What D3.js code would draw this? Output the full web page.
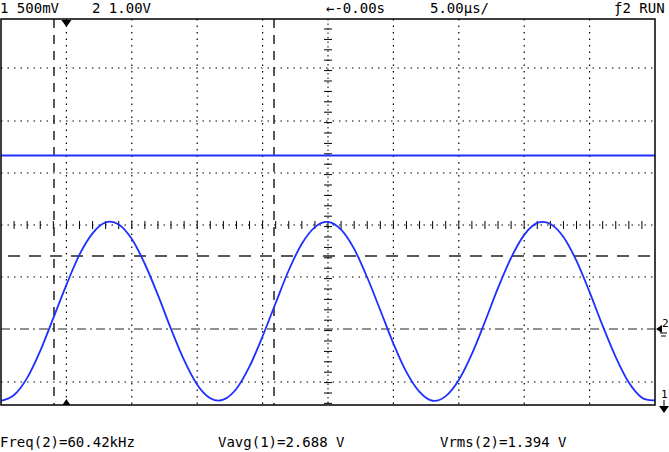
<!DOCTYPE html><html><head><meta charset="utf-8"><script src="https://cdn.jsdelivr.net/npm/d3@7"></script>
<style>body{margin:0;background:#fff}text{font-family:"DejaVu Sans Mono",monospace;font-size:14px;fill:#000}</style></head><body>
<script>
const timeUs=d3.range(0,51);
const ch2Volts=[-1.38,-1.27,-0.94,-0.42,0.21,0.85,1.43,1.84,2.05,2.01,1.73,1.25,0.65,0.00,-0.60,-1.07,-1.33,-1.36,-1.15,-0.72,-0.14,0.50,1.13,1.64,1.96,2.06,1.91,1.54,0.99,0.36,-0.28,-0.83,-1.21,-1.38,-1.29,-0.98,-0.48,0.14,0.79,1.37,1.81,2.04,2.02,1.77,1.31,0.71,0.06,-0.54,-1.03,-1.32,-1.37];
const ch1Time=[0,50];
const ch1Volts=[2.40,2.40];
const topLabels=[["1 500mV",0],["2 1.00V",92],["\u2190-0.00s",326],["5.00\u00b5s/",430],["\u01922 RUN",614]];
const bottomLabels=[["Freq(2)=60.42kHz",0],["Vavg(1)=2.688 V",218],["Vrms(2)=1.394 V",440]];

const W=669,H=452,L=1,R=655,T=19,B=405;
const svg=d3.select("body").append("svg").attr("width",W).attr("height",H);
const x=d3.scaleLinear().domain([0,50]).range([L,R]);
const y2=d3.scaleLinear().domain([0,1]).range([329,277]);
const y1=d3.scaleLinear().domain([0,0.5]).range([405,353]);
const g=svg.append("g");
const vx=d3.range(1,10).map(i=>x(i*5));
const hy=[68,121,173,277,382];
g.selectAll(".v").data(vx.filter((d,i)=>i!==4)).join("line").attr("x1",d=>d).attr("x2",d=>d).attr("y1",T).attr("y2",B).attr("stroke","#000").attr("stroke-dasharray","1.5,5").attr("stroke-width",1.2);
g.selectAll(".h").data(hy).join("line").attr("x1",L).attr("x2",R).attr("y1",d=>d).attr("y2",d=>d).attr("stroke","#000").attr("stroke-dasharray","1.5,5").attr("stroke-width",1.2);
const cx=x(25),cy=225;
g.append("line").attr("x1",cx).attr("x2",cx).attr("y1",T).attr("y2",B).attr("stroke","#000").attr("stroke-dasharray","1.5,3");
g.append("line").attr("x1",L).attr("x2",R).attr("y1",cy).attr("y2",cy).attr("stroke","#000").attr("stroke-dasharray","1.5,5");
g.selectAll(".tx").data(d3.range(1,50)).join("line").attr("x1",d=>x(d)).attr("x2",d=>x(d)).attr("y1",cy-4).attr("y2",cy+4).attr("stroke","#000");
g.selectAll(".ty").data(d3.range(T+10,B,10.4)).join("line").attr("x1",cx-4).attr("x2",cx+4).attr("y1",d=>d).attr("y2",d=>d).attr("stroke","#000");
[54,274].forEach(px=>g.append("line").attr("x1",px).attr("x2",px).attr("y1",T).attr("y2",B).attr("stroke","#222").attr("stroke-width",1.5).attr("stroke-dasharray","9,7"));
g.append("line").attr("x1",8).attr("x2",R).attr("y1",256).attr("y2",256).attr("stroke","#222").attr("stroke-width",1.5).attr("stroke-dasharray","12,9");
g.append("line").attr("x1",L).attr("x2",R).attr("y1",y2(0)).attr("y2",y2(0)).attr("stroke","#222").attr("stroke-width",1.2).attr("stroke-dasharray","9,4,2,4");
const line1=d3.line().x((d,i)=>x(ch1Time[i])).y(d=>y1(d));
svg.append("path").attr("d",line1(ch1Volts)).attr("stroke","#1f2fff").attr("stroke-width",2).attr("fill","none");
const line2=d3.line().x((d,i)=>x(timeUs[i])).y(d=>y2(d)).curve(d3.curveCardinal);
svg.append("path").attr("d",line2(ch2Volts)).attr("stroke","#1f2fff").attr("stroke-width",1.8).attr("fill","none");
svg.append("rect").attr("x",L).attr("y",T).attr("width",R-L).attr("height",B-T).attr("fill","none").attr("stroke","#000").attr("stroke-width",1.5);
svg.append("path").attr("d",`M${x(5)-5},${T+1}L${x(5)+5},${T+1}L${x(5)},${T+8}Z`);
svg.append("path").attr("d",`M${x(5)-4},${B}L${x(5)+4},${B}L${x(5)},${B-6}Z`);
svg.append("path").attr("d",`M656,329L662,325L662,333Z`);
svg.append("text").attr("x",662).attr("y",327).text("2").style("font-size","11px");
svg.append("line").attr("x1",660).attr("x2",667).attr("y1",333).attr("y2",333).attr("stroke","#000");
svg.append("line").attr("x1",661).attr("x2",666).attr("y1",336).attr("y2",336).attr("stroke","#000");
svg.append("text").attr("x",661).attr("y",398).text("1").style("font-size","11px");
svg.append("line").attr("x1",664).attr("x2",664).attr("y1",400).attr("y2",410).attr("stroke","#000");
svg.append("path").attr("d",`M659,406L669,406L664,413Z`);
svg.selectAll(".tl").data(topLabels).join("text").attr("x",d=>d[1]).attr("y",13).text(d=>d[0]);
svg.selectAll(".bl").data(bottomLabels).join("text").attr("x",d=>d[1]).attr("y",447).text(d=>d[0]);
</script></body></html>
